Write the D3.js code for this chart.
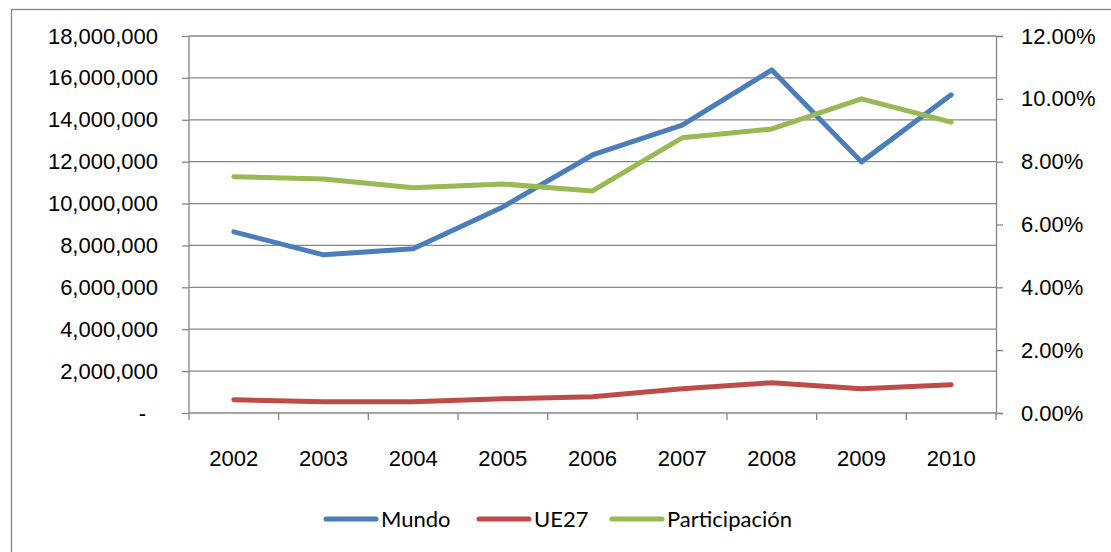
<!DOCTYPE html>
<html>
<head>
<meta charset="utf-8">
<script src="https://cdn.jsdelivr.net/npm/d3@7"></script>
<style>
  body { margin: 0; background: #fff; }
  svg { display: block; font-family: Lato, "Liberation Sans", sans-serif; }
  .tick text { font-size: 22px; fill: #000; }
</style>
</head>
<body>
<svg id="chart"></svg>
<script>
const width = 1111;
const height = 552;

const years = ["2002", "2003", "2004", "2005", "2006", "2007", "2008", "2009", "2010"];
const mundo = [8650000, 7550000, 7840000, 9840000, 12320000, 13750000, 16380000, 11990000, 15190000];
const ue27 = [630000, 540000, 540000, 680000, 780000, 1160000, 1450000, 1160000, 1350000];
const participacion = [0.0752, 0.0745, 0.0717, 0.0729, 0.0707, 0.0876, 0.0904, 0.1000, 0.0926];
const leftTicks = d3.range(0, 18000001, 2000000);
const rightTicks = d3.range(0, 0.1201, 0.02);

const series = [
  {name: "Mundo", values: mundo, axis: "left", color: "#4a7ebb"},
  {name: "UE27", values: ue27, axis: "left", color: "#be4b48"},
  {name: "Participación", values: participacion, axis: "right", color: "#98b954"}
];

const margin = {top: 36, right: 115, bottom: 139, left: 189};
const svg = d3.select('#chart').attr('width', width).attr('height', height);

// outer chart frame
svg.append('rect')
  .attr('x', 11.5).attr('y', 9.5)
  .attr('width', width + 20).attr('height', height + 20)
  .attr('fill', 'none').attr('stroke', '#868686').attr('stroke-width', 1.3);

const x = d3.scaleBand().domain(years).range([margin.left, width - margin.right]);
const yL = d3.scaleLinear().domain([0, 18000000]).range([height - margin.bottom, margin.top]);
const yR = d3.scaleLinear().domain([0, 0.12]).range([height - margin.bottom, margin.top]);

const grey = '#868686';
const fmtL = d3.format(',');

// left axis + gridlines
const gl = svg.append('g').attr('transform', `translate(${margin.left},0)`)
  .call(d3.axisLeft(yL).tickValues(leftTicks)
    .tickSize(7).tickPadding(24)
    .tickFormat(d => d === 0 ? '-' : fmtL(d)));
gl.select('.domain').remove();
gl.selectAll('.tick line').attr('stroke', grey).attr('stroke-width', 1.3);
gl.selectAll('.tick').filter(d => d === 0).select('text').attr('dx', -12);

svg.append('g').selectAll('line').data(leftTicks).enter().append('line')
  .attr('x1', margin.left).attr('x2', width - margin.right)
  .attr('y1', d => yL(d)).attr('y2', d => yL(d))
  .attr('stroke', grey).attr('stroke-width', 1.3);

svg.append('line')
  .attr('x1', margin.left).attr('x2', margin.left)
  .attr('y1', margin.top).attr('y2', height - margin.bottom)
  .attr('stroke', grey).attr('stroke-width', 1.3);

// right axis
const gr = svg.append('g').attr('transform', `translate(${width - margin.right},0)`)
  .call(d3.axisRight(yR).tickValues(rightTicks)
    .tickSize(7).tickPadding(18)
    .tickFormat(d3.format('.2%')));
gr.select('.domain').attr('stroke', grey).attr('stroke-width', 1.3);
gr.selectAll('.tick line').attr('stroke', grey).attr('stroke-width', 1.3);

// x axis
const gx = svg.append('g').attr('transform', `translate(0,${height - margin.bottom})`)
  .call(d3.axisBottom(x).tickSize(0).tickPadding(37));
gx.select('.domain').remove();
const bounds = years.map(d => x(d)).concat([x.range()[1]]);
svg.append('g').selectAll('line').data(bounds).enter().append('line')
  .attr('x1', d => d).attr('x2', d => d)
  .attr('y1', height - margin.bottom).attr('y2', height - margin.bottom + 7)
  .attr('stroke', grey).attr('stroke-width', 1.3);

// lines
const cx = d => x(d) + x.bandwidth() / 2;
series.forEach(s => {
  const y = s.axis === 'left' ? yL : yR;
  const line = d3.line().x((v, i) => cx(years[i])).y(v => y(v));
  svg.append('path')
    .datum(s.values)
    .attr('d', line)
    .attr('fill', 'none')
    .attr('stroke', s.color)
    .attr('stroke-width', 5)
    .attr('stroke-linejoin', 'round')
    .attr('stroke-linecap', 'round');
});

// legend
const legendX = [326, 479, 612];
const lg = svg.append('g').attr('transform', 'translate(0,519)');
series.forEach((s, i) => {
  lg.append('line')
    .attr('x1', legendX[i]).attr('x2', legendX[i] + 50)
    .attr('y1', 0).attr('y2', 0)
    .attr('stroke', s.color).attr('stroke-width', 5)
    .attr('stroke-linecap', 'round');
  lg.append('text')
    .attr('x', legendX[i] + 55).attr('y', 0)
    .attr('dy', '0.35em')
    .attr('font-size', 22)
    .text(s.name);
});
</script>
</body>
</html>
